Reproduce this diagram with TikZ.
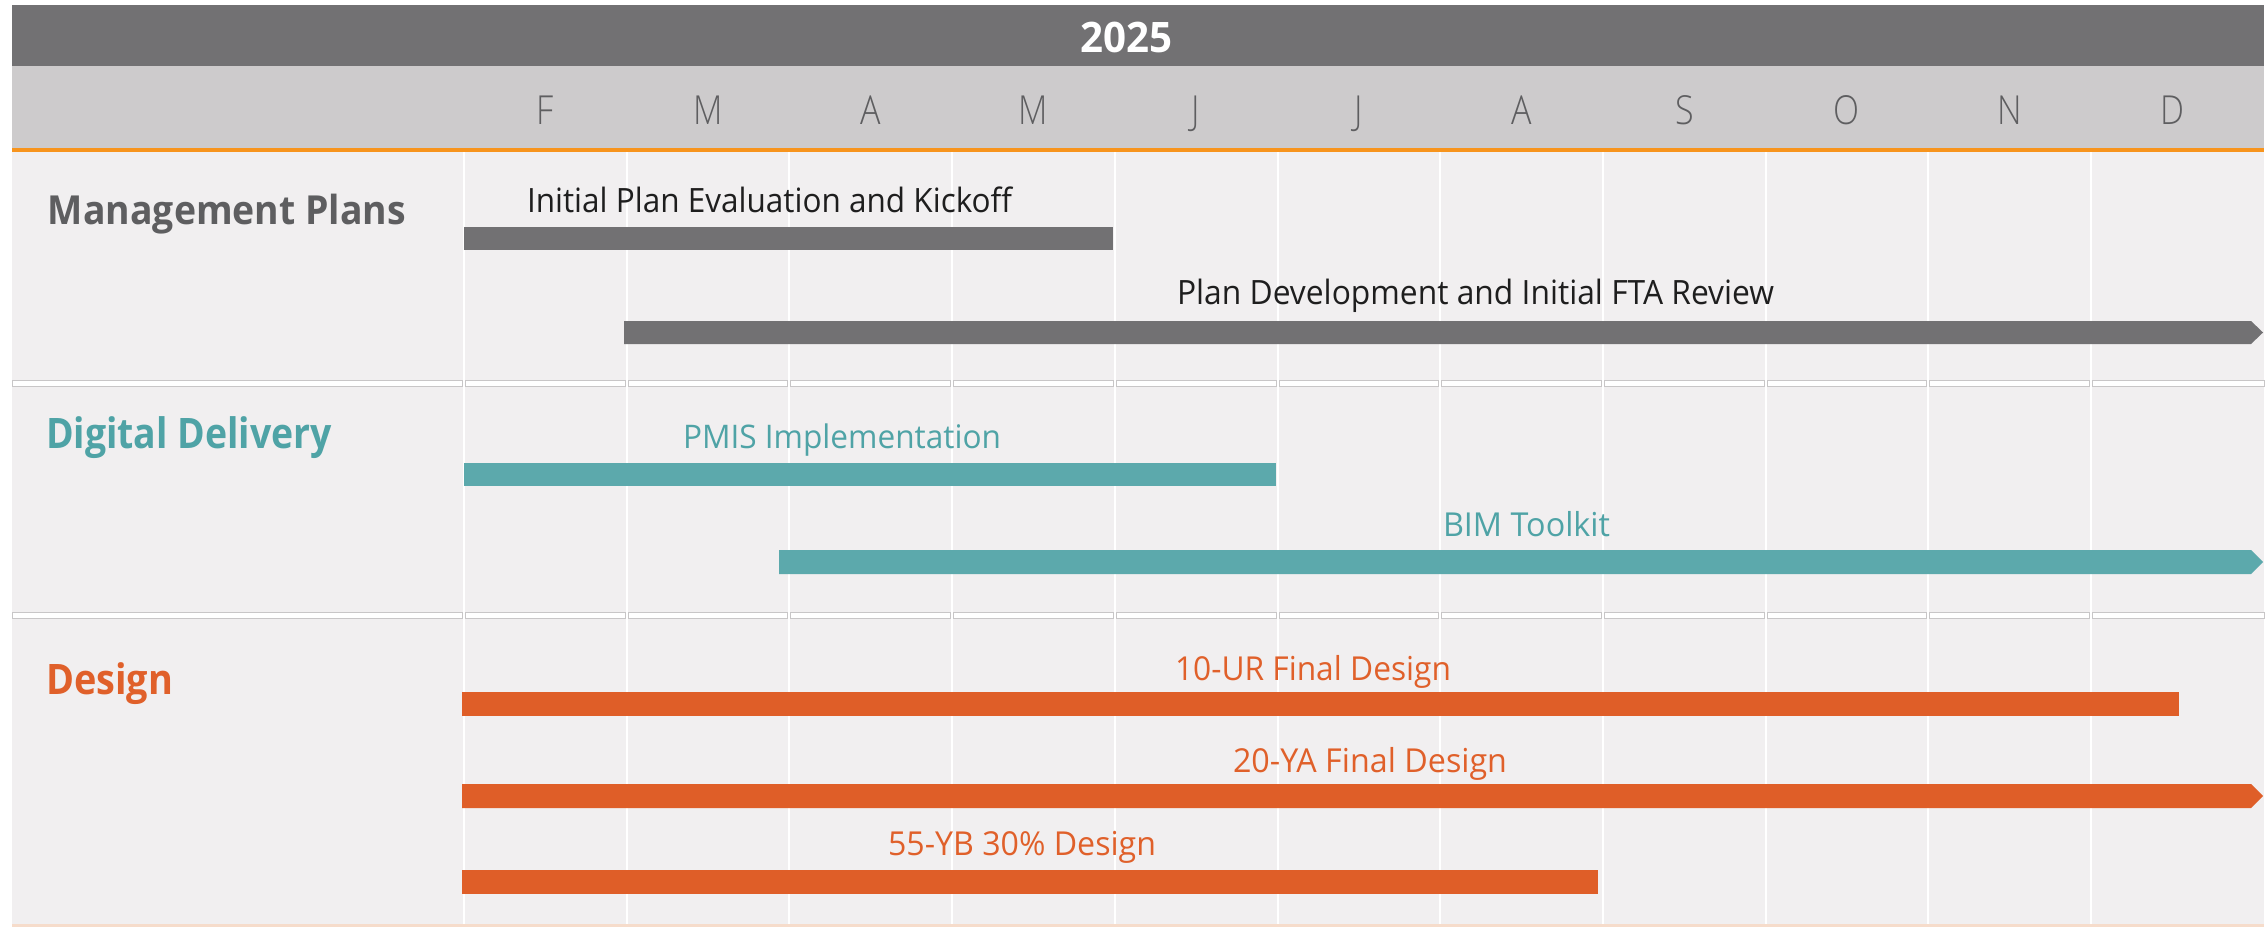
\documentclass[tikz,border=0pt]{standalone}
\usepackage{fontspec}
\setmainfont{Open Sans}
\newfontfamily\lightfont{Open Sans Light}
\usepackage{graphicx}
\definecolor{hdrdark}{HTML}{727173}
\definecolor{hdrlight}{HTML}{CDCBCC}
\definecolor{bodybg}{HTML}{F1EFF0}
\definecolor{orline}{HTML}{F7941D}
\definecolor{barGray}{HTML}{727173}
\definecolor{barTeal}{HTML}{5CA9AC}
\definecolor{barOrange}{HTML}{DF5E28}
\definecolor{txtGray}{HTML}{5E5E60}
\definecolor{txtDark}{HTML}{1E1E1E}
\definecolor{txtTeal}{HTML}{4FA3A6}
\definecolor{txtOrange}{HTML}{E0602A}
\definecolor{divline}{HTML}{C8C6C7}
\definecolor{peach}{HTML}{F6DCCB}
\newcommand{\fitw}[3]{\resizebox{#1pt}{\height}{\fontsize{#2}{#2}\selectfont #3}}
\tikzset{
  lbl/.style={anchor=base west, inner sep=0pt, outer sep=0pt},
  clbl/.style={anchor=base, inner sep=0pt, outer sep=0pt},
  month/.style={anchor=base, inner sep=0pt, text=txtGray, font=\lightfont\fontsize{40}{40}\selectfont},
  grid/.style={white, line width=2pt},
}
\begin{document}
\begin{tikzpicture}[x=1pt,y=-1pt]
\useasboundingbox (0,0) rectangle (2266,927);
\fill[white] (0,0) rectangle (2266,927);
% body
\fill[bodybg] (12,152) rectangle (2264,924);
\fill[peach] (12,924) rectangle (2264,926.5);
% gridlines
\foreach \k in {0,...,10} \draw[grid] ({464+162.7*\k},152) -- ({464+162.7*\k},924);
% dividers
\foreach \yy in {380,612} {
  \filldraw[fill=white, draw=divline, line width=1pt] (12,\yy) rectangle (462.5,\yy+6.5);
  \foreach \k in {0,...,9} \filldraw[fill=white, draw=divline, line width=1pt] ({465.5+162.7*\k},\yy) rectangle ({462.5+162.7*(\k+1)},\yy+6.5);
  \filldraw[fill=white, draw=divline, line width=1pt] ({465.5+162.7*10},\yy) rectangle (2264,\yy+6.5);
}
% headers
\fill[hdrdark] (12,5) rectangle (2264,66);
\fill[hdrlight] (12,66) rectangle (2264,148);
\fill[orline] (12,148) rectangle (2264,152);
\node[clbl, text=white] (yr) at (1126,52) {\fitw{92}{42}{\bfseries 2025}};
\foreach \m [count=\i from 0] in {F,M,A,M,J,J,A,S,O,N,D}
  \node[month] (m\i) at ({464+162.7*(\i+0.5)},124) {\scalebox{0.85}[1]{\m}};
% category labels
\node[lbl, text=txtGray] (catmp) at (48,224) {\fitw{358}{40}{\bfseries Management Plans}};
\node[lbl, text=txtTeal] (catdd) at (46,448) {\fitw{286}{42}{\bfseries Digital Delivery}};
\node[lbl, text=txtOrange] (catde) at (46,694) {\fitw{127}{42}{\bfseries Design}};
% bars
\fill[barGray] (464,227) rectangle (1113,250);
\fill[barGray] (624,321) -- (2251,321) -- (2263,332.5) -- (2251,344) -- (624,344) -- cycle;
\fill[barTeal] (464,463) rectangle (1276,486);
\fill[barTeal] (779,550) -- (2251,550) -- (2263,562) -- (2251,574) -- (779,574) -- cycle;
\fill[barOrange] (462,692) rectangle (2179,716);
\fill[barOrange] (462,784) -- (2251,784) -- (2263,796) -- (2251,808) -- (462,808) -- cycle;
\fill[barOrange] (462,870) rectangle (1598,894);
% bar labels
\node[lbl, text=txtDark] (t1) at (527,212) {\fitw{485}{33.5}{Initial Plan Evaluation and Kickoff}};
\node[lbl, text=txtDark] (t2) at (1177,304) {\fitw{597}{33.5}{Plan Development and Initial FTA Review}};
\node[lbl, text=txtTeal] (t3) at (683,448) {\fitw{318}{32.5}{PMIS Implementation}};
\node[lbl, text=txtTeal] (t4) at (1443,536) {\fitw{167}{33}{BIM Toolkit}};
\node[lbl, text=txtOrange] (t5) at (1175,680) {\fitw{276}{33}{10-UR Final Design}};
\node[lbl, text=txtOrange] (t6) at (1233,772) {\fitw{274}{33}{20-YA Final Design}};
\node[lbl, text=txtOrange] (t7) at (888,855) {\fitw{268}{33}{55-YB 30\% Design}};
\end{tikzpicture}
\end{document}
